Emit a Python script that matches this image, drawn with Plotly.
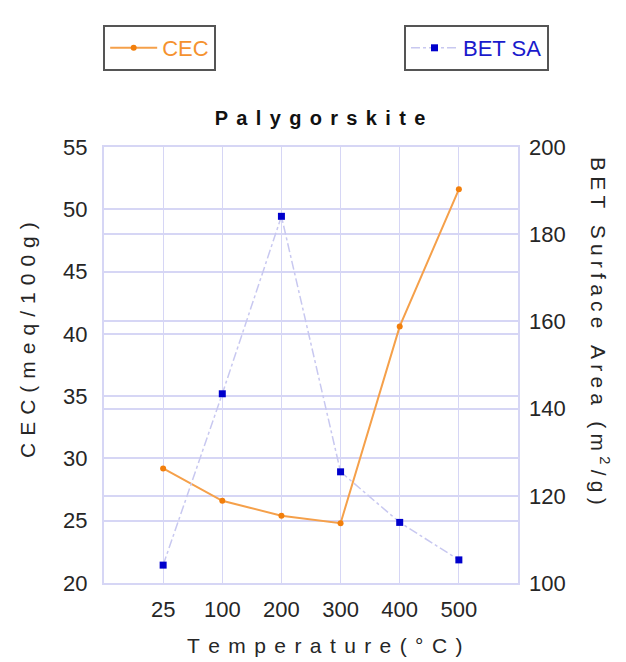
import plotly.graph_objects as go

temps = ["25", "100", "200", "300", "400", "500"]
cec = [29.2, 26.6, 25.4, 24.8, 40.6, 51.6]
bet = [104.1, 143.4, 184.1, 125.5, 113.9, 105.3]

def spaced(s, sp):
    return sp.join(list(s))

GRID = "#D6D6F5"
FONT = "Liberation Sans, Arial, sans-serif"
TXT = "#262626"

fig = go.Figure()
fig.add_trace(go.Scatter(
    x=temps, y=cec, name="CEC", mode="lines+markers",
    line=dict(color="#F5A04A", width=2),
    marker=dict(symbol="circle", size=6, color="#F27F0C"),
    legend="legend", yaxis="y",
))
fig.add_trace(go.Scatter(
    x=temps, y=bet, name="BET SA", mode="lines+markers",
    line=dict(color="#C8C8F0", width=1.5, dash="dashdot"),
    marker=dict(symbol="square", size=7, color="#0000CC"),
    legend="legend2", yaxis="y2",
))

left_title = spaced("CEC(meq/100g)", "\u2004")
right_title = (spaced("BET Surface Area (m", "\u2005") + "\u2005<sup>2</sup>\u2005"
               + spaced("/g)", "\u2005"))
x_title = spaced("Temperature(°C)", "\u2009\u2009")

fig.update_layout(
    width=626, height=662,
    margin=dict(l=104, r=108, t=147, b=79),
    paper_bgcolor="white", plot_bgcolor="white",
    showlegend=True,
    font=dict(family=FONT, size=22, color=TXT),
    title=dict(text="<b>" + spaced("Palygorskite", "\u2005\u2006") + "</b>",
               x=320 / 626, xref="container", y=1 - 118 / 662, yref="container",
               xanchor="center", yanchor="middle",
               font=dict(size=20, color="#111111")),
    xaxis=dict(type="category", range=[-1, 6], showgrid=True, gridcolor=GRID, gridwidth=1,
               showline=True, linecolor=GRID, linewidth=2, mirror=True,
               ticks="", zeroline=False, ticklabelstandoff=6,
               tickfont=dict(size=22, color=TXT)),
    yaxis=dict(range=[20, 55], dtick=5, showgrid=True, gridcolor=GRID, gridwidth=1.5,
               showline=True, linecolor=GRID, linewidth=2, mirror=True,
               ticks="", zeroline=False, ticklabelstandoff=10,
               tickfont=dict(size=22, color=TXT)),
    yaxis2=dict(range=[100, 200], dtick=20, overlaying="y", side="right",
                showgrid=True, gridcolor=GRID, gridwidth=1.5, zeroline=False,
                ticks="", ticklabelstandoff=10,
                tickfont=dict(size=22, color=TXT)),
    legend=dict(x=-0.002, y=(583 - 25) / 436, xanchor="left", yanchor="top",
                bordercolor="#555555", borderwidth=2, bgcolor="white",
                font=dict(size=22, color="#F5922F"), itemwidth=47,
                visible=True),
    legend2=dict(x=(404 - 104) / 414, y=(583 - 25) / 436, xanchor="left", yanchor="top",
                 bordercolor="#555555", borderwidth=2, bgcolor="white",
                 font=dict(size=22, color="#1a1acc"), itemwidth=47,
                 visible=True),
    annotations=[
        dict(text=left_title, x=27, y=340, textangle=-90),
        dict(text=right_title, x=600, y=331, textangle=90),
        dict(text=x_title, x=324, y=645, textangle=0),
    ],
)
# convert annotation pixel positions to paper coordinates
for a in fig.layout.annotations:
    px, py = a.x, a.y
    a.x = (px - 104) / 414
    a.y = (583 - py) / 436
    a.xref = "paper"
    a.yref = "paper"
    a.showarrow = False
    a.xanchor = "center"
    a.yanchor = "middle"
    a.font = dict(size=21, color=TXT, family=FONT)

fig.write_html("out.html")
